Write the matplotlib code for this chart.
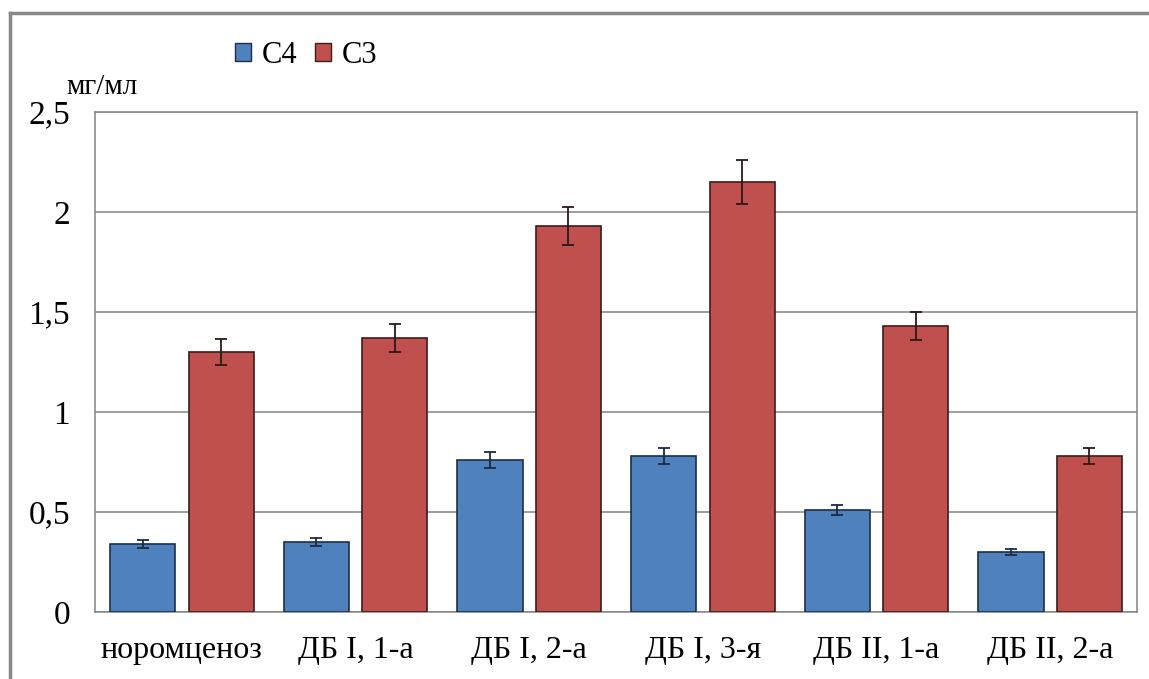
import numpy as np
import matplotlib
matplotlib.use("Agg")
import matplotlib.pyplot as plt
from matplotlib.lines import Line2D
from matplotlib.patches import Rectangle

# Data
groups = ["норомценоз", "ДБ I, 1-а", "ДБ I, 2-а", "ДБ I, 3-я", "ДБ II, 1-а", "ДБ II, 2-а"]
c4 = [0.34, 0.35, 0.76, 0.78, 0.51, 0.30]
c4_err = [0.02, 0.02, 0.04, 0.04, 0.025, 0.015]
c3 = [1.30, 1.37, 1.93, 2.15, 1.43, 0.78]
c3_err = [0.065, 0.07, 0.095, 0.11, 0.07, 0.04]
yticks = [0, 0.5, 1, 1.5, 2, 2.5]
ytick_labels = ["0", "0,5", "1", "1,5", "2", "2,5"]

plt.rcParams['font.family'] = ['Liberation Serif', 'DejaVu Serif']

fig = plt.figure(figsize=(11.49, 6.79), dpi=100)
ax = fig.add_axes([0.0827, 0.0987, 0.9069, 0.7364])

x = np.arange(len(groups))
w = 0.375
off = 0.226
ax.bar(x - off, c4, w, color='#4F81BD', edgecolor='#1c2f4a', linewidth=1.2, zorder=3)
ax.bar(x + off, c3, w, color='#C0504D', edgecolor='#3a1d1c', linewidth=1.2, zorder=3)
ax.errorbar(x - off, c4, yerr=c4_err, fmt='none', ecolor='#1c2a40', elinewidth=1.3,
            capsize=4.5, capthick=1.3, zorder=4)
ax.errorbar(x + off, c3, yerr=c3_err, fmt='none', ecolor='#2a1a1a', elinewidth=1.3,
            capsize=4.5, capthick=1.3, zorder=4)

ax.set_xlim(-0.5, len(groups) - 0.5)
ax.set_ylim(0, 2.5)
ax.set_yticks(yticks)
ax.set_yticklabels(ytick_labels)
ax.set_xticks(x)
ax.set_xticklabels(groups)
ax.tick_params(axis='y', length=0, labelsize=24, pad=18)
ax.tick_params(axis='x', length=0, labelsize=23, pad=17)
ax.yaxis.grid(True, color='#8c8c8c', linewidth=1.2, zorder=0)
for s in ax.spines.values():
    s.set_color('#8c8c8c')
    s.set_linewidth(1.2)

# units label above the y axis
fig.text(0.058, 0.853, "мг/мл", fontsize=21, ha='left', va='bottom')

# Legend
handles = [Rectangle((0, 0), 1, 1, facecolor='#4F81BD', edgecolor='#1c2f4a'),
           Rectangle((0, 0), 1, 1, facecolor='#C0504D', edgecolor='#3a1d1c')]
fig.legend(handles, ["С4", "С3"], loc='center left', bbox_to_anchor=(0.191, 0.918),
           ncol=2, frameon=False, fontsize=22, handlelength=0.52, handleheight=0.52,
           handletextpad=0.35, columnspacing=0.6, borderpad=0)

# Outer frame
fig.add_artist(Line2D([0.0087, 0.0087], [0, 0.981], color='#888888', linewidth=2.5))
fig.add_artist(Line2D([0.0087, 1.0], [0.981, 0.981], color='#888888', linewidth=2.5))

fig.savefig("out.png", dpi=100)
